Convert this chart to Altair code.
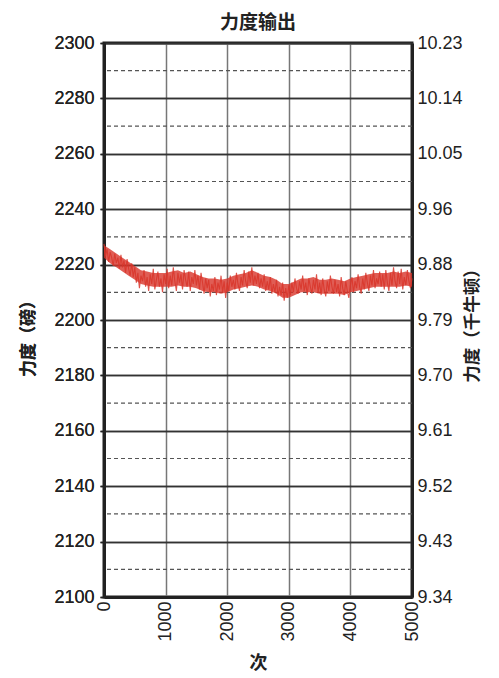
import altair as alt
import pandas as pd

x_step = 25
force_lb = [
    2227.5, 2223.0, 2225.5, 2221.0, 2224.5, 2222.5, 2219.5, 2224.0, 2220.5, 2222.5,
    2218.5, 2223.5, 2219.0, 2221.5, 2217.0, 2222.0, 2218.5, 2216.0, 2220.5, 2215.5,
    2219.0, 2213.5, 2217.0, 2211.5, 2216.0, 2214.0, 2218.0, 2212.0, 2215.5, 2210.5,
    2216.5, 2213.0, 2218.5, 2211.0, 2214.5, 2217.5, 2212.0, 2215.0, 2210.0, 2216.5,
    2213.0, 2218.5, 2211.5, 2216.0, 2212.5, 2219.0, 2214.0, 2210.5, 2217.0, 2213.5,
    2216.5, 2211.0, 2218.0, 2214.5, 2212.0, 2217.5, 2210.5, 2215.5, 2213.0, 2218.0,
    2212.5, 2216.0, 2211.0, 2217.0, 2213.5, 2209.5, 2215.0, 2211.5, 2214.5, 2208.5,
    2213.0, 2210.5, 2215.5, 2209.0, 2213.5, 2211.0, 2216.0, 2210.0, 2214.0, 2208.0,
    2213.5, 2210.5, 2216.0, 2212.0, 2214.5, 2211.0, 2217.0, 2213.0, 2210.5, 2215.5,
    2212.5, 2218.0, 2214.0, 2211.5, 2217.5, 2213.5, 2219.0, 2212.5, 2216.0, 2213.0,
    2217.0, 2211.5, 2215.0, 2212.0, 2216.5, 2210.5, 2214.0, 2211.0, 2215.5, 2209.5,
    2213.0, 2210.0, 2214.5, 2208.5, 2212.0, 2209.0, 2213.5, 2207.0, 2211.5, 2208.0,
    2212.5, 2209.0, 2213.5, 2210.0, 2215.0, 2211.5, 2209.5, 2214.0, 2211.0, 2216.0,
    2210.5, 2213.5, 2209.0, 2215.0, 2212.0, 2209.5, 2214.5, 2211.0, 2216.5, 2210.0,
    2213.5, 2209.0, 2215.0, 2211.0, 2208.5, 2214.0, 2210.5, 2216.0, 2212.0, 2209.5,
    2214.5, 2210.0, 2213.0, 2208.5, 2215.5, 2211.5, 2209.0, 2214.0, 2210.5, 2208.0,
    2212.5, 2215.5, 2210.0, 2214.0, 2211.5, 2216.5, 2212.0, 2209.5, 2215.0, 2211.0,
    2217.0, 2213.5, 2210.5, 2216.0, 2212.5, 2218.0, 2211.5, 2215.0, 2213.0, 2217.5,
    2212.0, 2216.5, 2211.0, 2218.0, 2213.5, 2210.5, 2217.0, 2212.5, 2219.0, 2214.0,
    2211.5, 2217.5, 2213.0, 2218.5, 2211.0, 2215.5, 2212.5, 2218.0, 2214.0, 2211.5,
    2215.0,
]
cycles = [i * x_step for i in range(len(force_lb))]

# Dense core of the noise band (lb), every 100 cycles
band_step = 100
band_upper = [
    2227.0, 2225.5, 2224.0, 2222.5, 2221.0, 2219.5, 2218.0, 2217.5, 2217.0, 2217.0,
    2217.0, 2217.5, 2218.0, 2217.0, 2217.5, 2216.5, 2215.5, 2215.0, 2215.0, 2214.5,
    2215.0, 2216.0, 2216.5, 2217.0, 2218.0, 2217.0, 2216.0, 2215.5, 2214.5, 2213.0,
    2213.0, 2214.0, 2215.0, 2215.0, 2215.5, 2214.5, 2214.5, 2215.0, 2214.5, 2214.0,
    2215.0, 2215.5, 2216.0, 2216.5, 2217.0, 2217.0, 2217.0, 2217.5, 2217.0, 2217.5,
    2217.0,
]
band_lower = [
    2222.5, 2220.5, 2219.0, 2217.5, 2216.0, 2214.5, 2213.0, 2212.5, 2212.0, 2212.0,
    2212.0, 2212.0, 2212.5, 2212.0, 2212.0, 2211.5, 2210.5, 2210.0, 2210.0, 2209.5,
    2210.0, 2211.0, 2211.5, 2212.0, 2212.5, 2212.0, 2211.0, 2210.5, 2209.5, 2208.0,
    2208.0, 2209.0, 2210.0, 2210.0, 2210.0, 2209.5, 2209.5, 2209.5, 2209.5, 2209.0,
    2210.0, 2210.5, 2211.0, 2211.5, 2212.0, 2212.0, 2212.0, 2212.0, 2212.0, 2212.5,
    2212.0,
]
band_cycles = [i * band_step for i in range(len(band_upper))]

y_ticks = [2100, 2120, 2140, 2160, 2180, 2200, 2220, 2240, 2260, 2280, 2300]
y_minor = [2110, 2130, 2150, 2170, 2190, 2210, 2230, 2250, 2270, 2290]
x_ticks = [0, 1000, 2000, 3000, 4000, 5000]
kn_labels = ["9.34", "9.43", "9.52", "9.61", "9.70", "9.79", "9.88",
             "9.96", "10.05", "10.14", "10.23"]

df = pd.DataFrame({"n": cycles, "lb": force_lb})
band_df = pd.DataFrame({"n": band_cycles, "hi": band_upper, "lo": band_lower})
minor_df = pd.DataFrame({"v": y_minor})

num_font = "Liberation Sans Narrow, Liberation Sans, sans-serif"
cjk = "Noto Sans CJK SC"
dark = "#222222"
red = "#d8352a"

xscale = alt.Scale(domain=[0, 5000], nice=False, zero=False)
yscale = alt.Scale(domain=[2100, 2300], nice=False, zero=False)

kn_expr = "[" + ",".join("'" + s + "'" for s in kn_labels) + "][round((datum.value-2100)/20)]"

x_axis = alt.Axis(
    values=x_ticks, title="次", labelAngle=270, grid=True, gridColor="#777777",
    gridWidth=1.5, tickSize=0, labelPadding=4, labelFont=num_font, labelFontSize=18,
    labelColor=dark, domainColor=dark, domainWidth=3, titleFont=cjk, titleFontSize=18,
    titleFontWeight="bold", titleColor=dark, titleX=154, titleY=66,
    titleBaseline="middle", labelFlush=False, labelOverlap=False, format="d",
)
y_axis_left = alt.Axis(
    values=y_ticks, title="力度（磅）", orient="left", grid=True, gridColor="#333333",
    gridWidth=1.3, tickSize=4, tickColor=dark, tickWidth=1.5, labelPadding=6,
    labelFont=num_font, labelFontSize=18, labelColor=dark, domainColor=dark,
    domainWidth=3, titleFont=cjk, titleFontSize=17, titleFontWeight="bold",
    titleColor=dark, titleAngle=270, titleX=-76, titleY=291, titleBaseline="middle",
    labelFlush=False, labelOverlap=False, format="d",
)
y_axis_right = alt.Axis(
    values=y_ticks, title="力度（千牛顿）", orient="right", grid=False, tickSize=0,
    labelPadding=5, labelExpr=kn_expr, labelFont=num_font, labelFontSize=18,
    labelColor=dark, domainColor=dark, domainWidth=3, titleFont=cjk,
    titleFontSize=17.5, titleFontWeight="bold", titleColor=dark, titleAngle=270,
    titleX=60, titleY=278, titleBaseline="middle", labelFlush=False,
    labelOverlap=False,
)

minor = alt.Chart(minor_df).mark_rule(
    strokeDash=[4, 3], color="#555555", strokeWidth=1.2
).encode(y=alt.Y("v:Q", scale=yscale, axis=None))

band = alt.Chart(band_df).mark_area(color=red, opacity=0.8, interpolate="linear").encode(
    x=alt.X("n:Q", scale=xscale, axis=x_axis),
    y=alt.Y("hi:Q", scale=yscale, axis=y_axis_left),
    y2="lo:Q",
)

line = alt.Chart(df).mark_line(color=red, strokeWidth=1.1, opacity=0.85).encode(
    x=alt.X("n:Q", scale=xscale, axis=x_axis),
    y=alt.Y("lb:Q", scale=yscale, axis=y_axis_left),
)

right = alt.Chart(df).mark_line(opacity=0).encode(
    x=alt.X("n:Q", scale=xscale, axis=x_axis),
    y=alt.Y("lb:Q", scale=yscale, axis=y_axis_right),
)

chart = (
    alt.layer(minor, band, line, right)
    .resolve_scale(y="shared")
    .resolve_axis(y="independent")
    .properties(
        width=308,
        height=554,
        autosize=alt.AutoSizeParams(type="none"),
        padding={"left": 104, "top": 43, "right": 87, "bottom": 81},
        title=alt.TitleParams(
            "力度输出", font=cjk, fontSize=19, fontWeight="bold", color=dark,
            offset=1, anchor="middle",
        ),
        background="white",
    )
    .configure_view(stroke=dark, strokeWidth=3)
)

chart.save("out.html", embed_options={"renderer": "svg", "actions": False})
